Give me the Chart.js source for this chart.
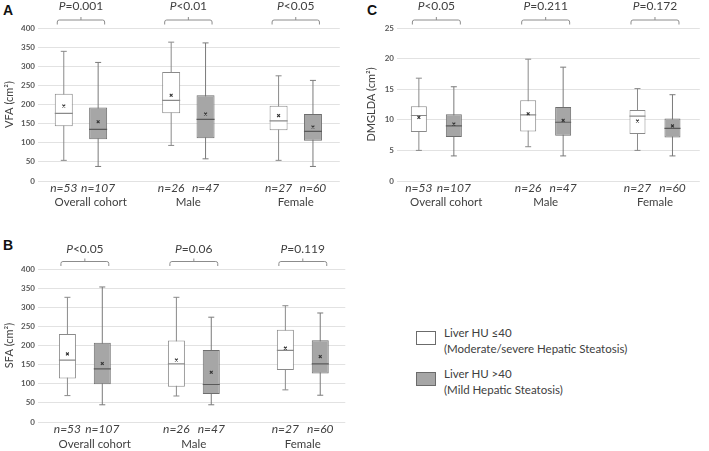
<!DOCTYPE html>
<html><head><meta charset="utf-8">
<script src="https://cdn.jsdelivr.net/npm/chart.js@4.4.1/dist/chart.umd.min.js"></script>
<style>
html,body{margin:0;padding:0;background:#fff;}
body{width:709px;height:451px;position:relative;overflow:hidden;font-family:Lato,'Open Sans',sans-serif;}
.panel{position:absolute;}
.letter{position:absolute;font:bold 14px 'Liberation Sans',Arial,sans-serif;color:#111;line-height:14px;}
.swatch{position:absolute;width:20px;height:14px;box-sizing:border-box;}
.legtxt{position:absolute;font:11.5px Lato,sans-serif;color:#404040;line-height:15.5px;white-space:nowrap;}
</style></head><body>
<div class="letter" style="left:3px;top:3px">A</div>
<div class="letter" style="left:3px;top:238px">B</div>
<div class="letter" style="left:367px;top:3px">C</div>
<div class="panel" style="left:0;top:0;width:350px;height:225px"><canvas id="ca"></canvas></div>
<div class="panel" style="left:0;top:225px;width:355px;height:226px"><canvas id="cb"></canvas></div>
<div class="panel" style="left:362px;top:0;width:347px;height:225px"><canvas id="cc"></canvas></div>

<div class="swatch" style="left:416px;top:331px;background:#fff;border:1px solid #6b6b6b"></div>
<div class="legtxt" style="left:444px;top:325px">Liver HU ≤40<br>(Moderate/severe Hepatic Steatosis)</div>
<div class="swatch" style="left:416px;top:372px;background:#a6a6a6;border:1px solid #6b6b6b"></div>
<div class="legtxt" style="left:444px;top:366px">Liver HU &gt;40<br>(Mild Hepatic Steatosis)</div>

<script>
// ---------- DATA ----------
const categories = ['Overall cohort', 'Male', 'Female'];
const nLow  = [53, 26, 27];
const nHigh = [107, 47, 60];

// A: VFA (cm²)
const vfaLowMin  = [54, 93, 54];
const vfaLowQ1   = [143, 177, 133];
const vfaLowMed  = [177, 211, 157];
const vfaLowQ3   = [228, 285, 197];
const vfaLowMax  = [339, 363, 275];
const vfaLowMean = [196, 224, 171];
const vfaHighMin  = [38, 58, 38];
const vfaHighQ1   = [109, 112, 105];
const vfaHighMed  = [135, 161, 130];
const vfaHighQ3   = [192, 224, 175];
const vfaHighMax  = [310, 361, 263];
const vfaHighMean = [155, 175, 141];
const vfaP = ['=0.001', '<0.01', '<0.05'];
const vfaTicks = [0, 50, 100, 150, 200, 250, 300, 350, 400];

// B: SFA (cm²)
const sfaLowMin  = [69, 68, 84];
const sfaLowQ1   = [114, 92, 136];
const sfaLowMed  = [162, 152, 187];
const sfaLowQ3   = [230, 213, 241];
const sfaLowMax  = [326, 326, 304];
const sfaLowMean = [178, 162, 193];
const sfaHighMin  = [45, 45, 70];
const sfaHighQ1   = [99, 73, 127];
const sfaHighMed  = [139, 98, 152];
const sfaHighQ3   = [207, 188, 214];
const sfaHighMax  = [353, 274, 285];
const sfaHighMean = [153, 130, 171];
const sfaP = ['<0.05', '=0.06', '=0.119'];
const sfaTicks = [0, 50, 100, 150, 200, 250, 300, 350, 400];

// C: DMGLDA (cm²)
const dmLowMin  = [5.0, 5.6, 5.0];
const dmLowQ1   = [8.0, 8.1, 7.7];
const dmLowMed  = [10.7, 10.8, 10.6];
const dmLowQ3   = [12.2, 13.2, 11.6];
const dmLowMax  = [16.8, 19.9, 15.1];
const dmLowMean = [10.4, 11.0, 9.8];
const dmHighMin  = [4.1, 4.1, 4.1];
const dmHighQ1   = [7.2, 7.4, 7.1];
const dmHighMed  = [9.0, 9.6, 8.6];
const dmHighQ3   = [10.9, 12.1, 10.2];
const dmHighMax  = [15.4, 18.6, 14.1];
const dmHighMean = [9.3, 9.9, 9.0];
const dmP = ['<0.05', '=0.211', '=0.172'];
const dmTicks = [0, 5, 10, 15, 20, 25];

// ---------- STYLE ----------
const TXT = '#404040';
const OFF = 0.16;
const LABEL_SHIFT = [0.09, 0, 0]; // category label nudges (layout only)
const lowStyle  = {fill:'#ffffff', border:'#8a8a8a', whisker:'#8a8a8a', median:'#8a8a8a'};
const highStyle = {fill:'#a6a6a6', border:'#6e6e6e', whisker:'#7a7a7a', median:'#5a5a5a'};

function series(min, q1, med, q3, max, mean){ return {min, q1, med, q3, max, mean}; }

function boxDatasets(s, dx, st, bw){
  const xs = categories.map((c,i)=> i + dx);
  return [
    {type:'bar', order:5, grouped:false, maxBarThickness:1, backgroundColor:st.whisker, borderWidth:0,
     data: xs.map((x,i)=>({x, y:[s.min[i], s.max[i]]}))},
    {type:'bar', order:4, grouped:false, maxBarThickness:bw, backgroundColor:st.fill, borderColor:st.border,
     borderWidth:1, borderSkipped:false,
     data: xs.map((x,i)=>({x, y:[s.q1[i], s.q3[i]]}))},
    {type:'scatter', order:3, pointStyle:'line', pointRadius:3, pointBorderWidth:1, borderColor:st.whisker,
     data: xs.flatMap((x,i)=>[{x, y:s.min[i]}, {x, y:s.max[i]}])},
    {type:'scatter', order:2, pointStyle:'line', pointRadius:bw/2, pointBorderWidth:1.2, borderColor:st.median,
     data: xs.map((x,i)=>({x, y:s.med[i]}))},
    {type:'scatter', order:1, pointStyle:'crossRot', pointRadius:2, pointBorderWidth:1.1, borderColor:'#333',
     data: xs.map((x,i)=>({x, y:s.mean[i]}))}
  ];
}

function makePanel(id, cfg){
  const boxPos = [];
  categories.forEach((c,i)=>{ boxPos.push(i-OFF, i+OFF); });
  const nAll = []; nLow.forEach((n,i)=>{ nAll.push(n, nHigh[i]); });

  const pPlugin = {
    id:'pvals',
    afterDraw(chart){
      const ctx = chart.ctx, xs = chart.scales.x, top = chart.chartArea.top;
      ctx.save();
      cfg.p.forEach((txt,i)=>{
        const xl = xs.getPixelForValue(i - OFF) - 6.5;
        const xr = xs.getPixelForValue(i + OFF) + 6.5;
        const cx = (xl + xr)/2;
        const yh = top - cfg.brY, yb = top - cfg.brY + 4.5, r = 2;
        ctx.strokeStyle = '#8c8c8c'; ctx.lineWidth = 1;
        ctx.beginPath();
        ctx.moveTo(xl, yb);
        ctx.arcTo(xl, yh, xl + r, yh, r);
        ctx.lineTo(xr - r, yh);
        ctx.arcTo(xr, yh, xr, yb, r);
        ctx.lineTo(xr, yb);
        ctx.moveTo(cx, yh); ctx.lineTo(cx, yh - 3);
        ctx.stroke();
        ctx.textBaseline = 'middle'; ctx.textAlign = 'left'; ctx.fillStyle = TXT;
        ctx.font = 'italic 12px Lato'; const w1 = ctx.measureText('P').width;
        ctx.font = '12px Lato'; const w2 = ctx.measureText(txt).width;
        const x0 = cx - (w1 + w2)/2, ty = top - cfg.pY;
        ctx.font = 'italic 12px Lato'; ctx.fillText('P', x0, ty);
        ctx.font = '12px Lato'; ctx.fillText(txt, x0 + w1, ty);
      });
      ctx.restore();
    }
  };

  return new Chart(document.getElementById(id), {
    type:'bar',
    data:{ datasets:[...boxDatasets(cfg.low, -OFF, lowStyle, cfg.bw), ...boxDatasets(cfg.high, OFF, highStyle, cfg.bw)] },
    options:{
      responsive:true, maintainAspectRatio:false, animation:false,
      layout:{ padding:{ top:cfg.padTop, right:cfg.padRight, bottom:cfg.padBottom, left:0 } },
      plugins:{ legend:{display:false}, tooltip:{enabled:false} },
      scales:{
        x:{ type:'linear', position:'bottom', min:cfg.xMin, max:cfg.xMax, offset:false,
            grid:{display:false, drawTicks:false, offset:false}, border:{display:false},
            afterBuildTicks: a => { a.ticks = boxPos.map(v=>({value:v})); },
            afterFit: a => { a.height = cfg.xH; },
            ticks:{ autoSkip:false, maxRotation:0, padding:0, color:TXT,
                    font:{family:'Lato', size:12, style:'italic'},
                    callback:(v,i)=> 'n=' + nAll[i] } },
        x2:{ type:'linear', position:'bottom', min:cfg.xMin, max:cfg.xMax, offset:false,
             grid:{display:false, drawTicks:false}, border:{display:false},
             afterBuildTicks: a => { a.ticks = categories.map((c,i)=>({value:i + LABEL_SHIFT[i]})); },
             afterFit: a => { a.height = cfg.x2H; },
             ticks:{ autoSkip:false, maxRotation:0, padding:0, color:TXT,
                     font:{family:'Lato', size:11.5},
                     callback:(v,i)=> categories[i] } },
        y:{ type:'linear', min:cfg.ticks[0], max:cfg.ticks[cfg.ticks.length-1],
            afterBuildTicks: a => { a.ticks = cfg.ticks.map(v=>({value:v})); },
            afterFit: a => { a.width = cfg.yW; },
            grid:{ color:'#e2e2e2', drawTicks:false, lineWidth:1 },
            border:{ display:false },
            ticks:{ padding:3, color:'#595959', font:{family:'Lato', size:8, weight:'bold'} },
            title:{ display:true, text:cfg.title, color:TXT, padding:{top:3, bottom:0},
                    font:{family:'Lato', size:11} } }
      }
    },
    plugins:[pPlugin]
  });
}

makePanel('ca', {
  low: series(vfaLowMin, vfaLowQ1, vfaLowMed, vfaLowQ3, vfaLowMax, vfaLowMean),
  high: series(vfaHighMin, vfaHighQ1, vfaHighMed, vfaHighQ3, vfaHighMax, vfaHighMean),
  p: vfaP, ticks: vfaTicks, title: 'VFA (cm²)',
  xMin:-0.40, xMax:2.41, bw:18, yW:38,
  padTop:28, padRight:7, padBottom:14, xH:14, x2H:16, brY:8, pY:21.5
});
makePanel('cb', {
  low: series(sfaLowMin, sfaLowQ1, sfaLowMed, sfaLowQ3, sfaLowMax, sfaLowMean),
  high: series(sfaHighMin, sfaHighQ1, sfaHighMed, sfaHighQ3, sfaHighMax, sfaHighMean),
  p: sfaP, ticks: sfaTicks, title: 'SFA (cm²)',
  xMin:-0.43, xMax:2.39, bw:17, yW:38,
  padTop:44, padRight:7, padBottom:2, xH:15, x2H:12, brY:7.5, pY:19.5
});
makePanel('cc', {
  low: series(dmLowMin, dmLowQ1, dmLowMed, dmLowQ3, dmLowMax, dmLowMean),
  high: series(dmHighMin, dmHighQ1, dmHighMed, dmHighQ3, dmHighMax, dmHighMean),
  p: dmP, ticks: dmTicks, title: 'DMGLDA (cm²)',
  xMin:-0.36, xMax:2.41, bw:16, yW:35,
  padTop:28, padRight:2, padBottom:14, xH:14, x2H:16, brY:8, pY:21.5
});
</script>
</body></html>
